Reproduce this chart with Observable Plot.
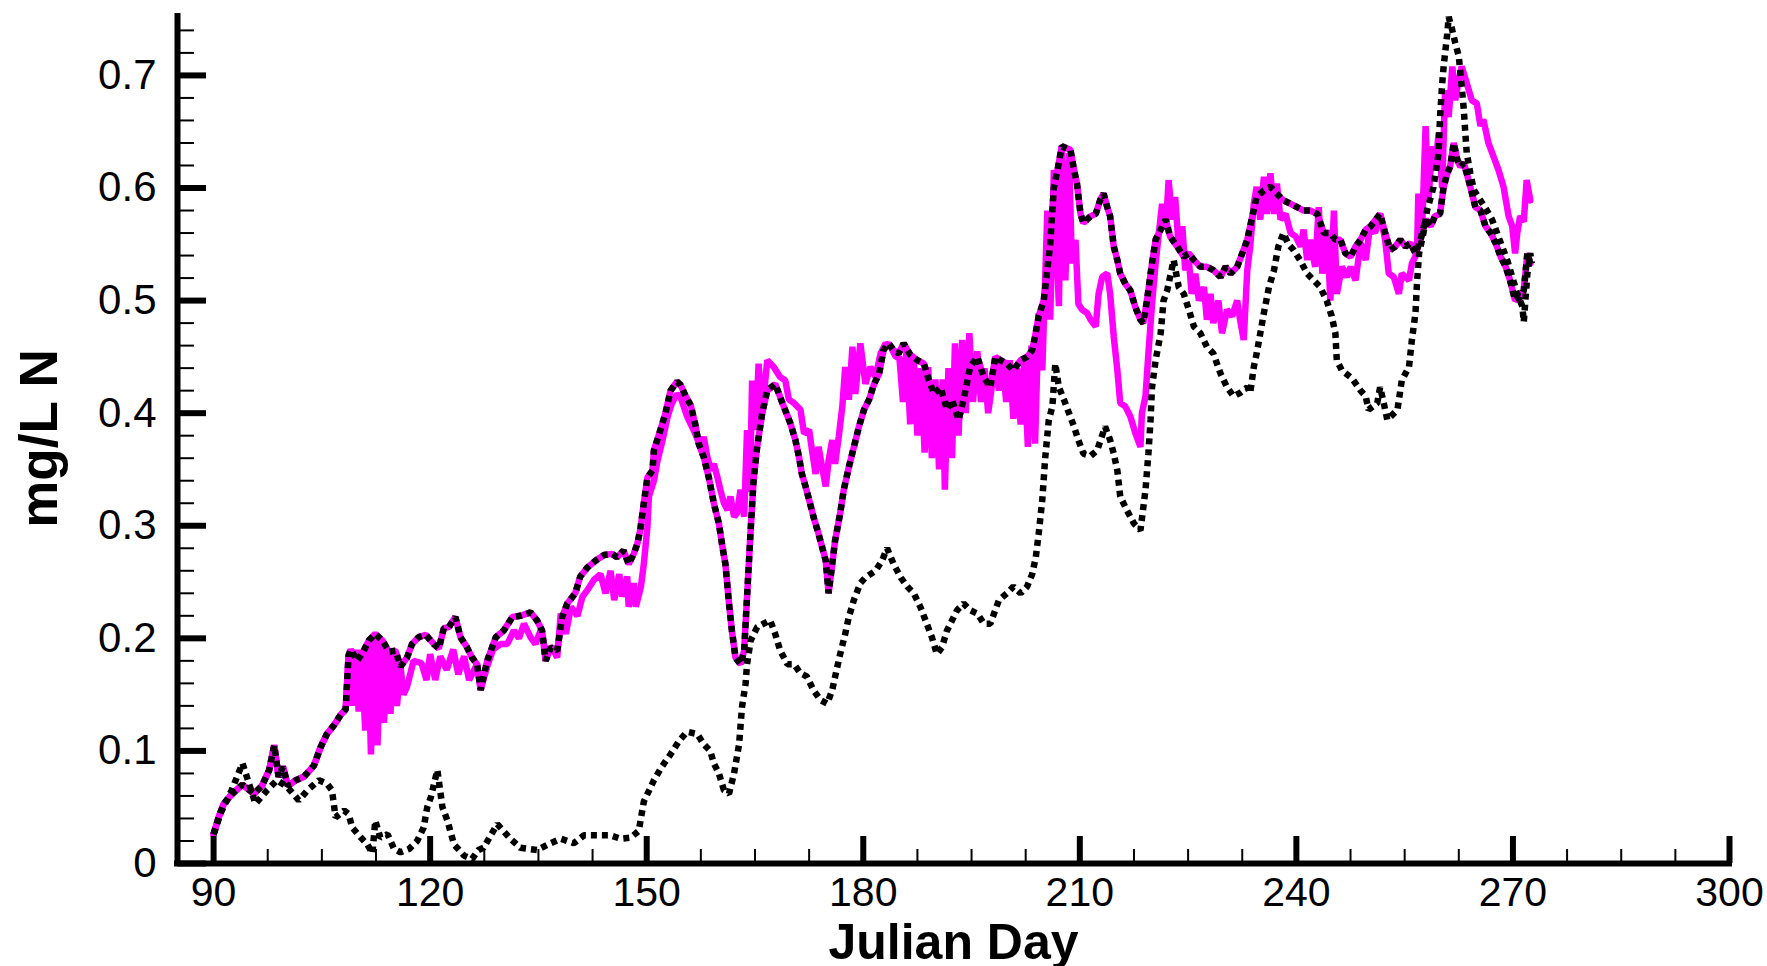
<!DOCTYPE html>
<html>
<head>
<meta charset="utf-8">
<script src="https://cdn.jsdelivr.net/npm/d3@7"></script>
<script src="https://cdn.jsdelivr.net/npm/@observablehq/plot@0.6"></script>
<style>
  html, body { margin: 0; padding: 0; background: #fff; }
  #chart svg { display: block; }
</style>
</head>
<body>
<div id="chart"></div>
<script>
// ---- tick values ----
const xMajorTicks = [90, 120, 150, 180, 210, 240, 270, 300];
const xMinorTicks = [97.5, 105, 112.5, 127.5, 135, 142.5, 157.5, 165, 172.5, 187.5, 195, 202.5,
  217.5, 225, 232.5, 247.5, 255, 262.5, 277.5, 285, 292.5];
const yMajorTicks = [0, 0.1, 0.2, 0.3, 0.4, 0.5, 0.6, 0.7];
const yMinorTicks = [0.02, 0.04, 0.06, 0.08, 0.12, 0.14, 0.16, 0.18, 0.22, 0.24, 0.26, 0.28,
  0.32, 0.34, 0.36, 0.38, 0.42, 0.44, 0.46, 0.48, 0.52, 0.54, 0.56, 0.58, 0.62, 0.64, 0.66, 0.68, 0.72, 0.74];
const xTitle = "Julian Day";
const yTitle = "mg/L N";

// ---- series: [Julian day, mg/L N] ----
// upper series (magenta solid overlaid by black dotted)
const upperSeries = [[90,0.026],[90.7,0.041],[91.4,0.053],[92.6,0.062],[94,0.07],[95.6,0.062],[96.7,0.069],[97.7,0.083],[98.4,0.105],[99,0.077],[99.6,0.086],[100.3,0.069],[101.4,0.074],[102.5,0.077],[103.9,0.087],[104.8,0.103],[105.7,0.115],[106.7,0.123],[107.6,0.132],[108.3,0.137],
[108.7,0.185],[109.0,0.19],[109.9,0.18],[110.8,0.189],[111.5,0.198],[112.4,0.204],[113.4,0.198],[114.3,0.188],[115.2,0.189],[115.9,0.175],[116.8,0.183],[117.5,0.195],[118.4,0.201],[119.4,0.203],[120.5,0.195],[121.2,0.191],[121.9,0.209],[122.6,0.21],[123.5,0.219],[124.2,0.201],[125.1,0.192],[125.8,0.183],[126.5,0.177],[127.0,0.154],[127.9,0.18],[129.1,0.201],[130.2,0.207],[131.4,0.219],[132.5,0.22],[133.9,0.223],[134.8,0.216],[135.5,0.207],[136.0,0.18],[136.7,0.192],[137.6,0.189],[138.3,0.219],[139.0,0.231],[140.1,0.24],[140.8,0.255],[141.8,0.263],[142.9,0.269],[144.1,0.274],[145.2,0.275],[145.9,0.272],[146.8,0.278],[147.5,0.266],[148.2,0.275],[148.7,0.284],[149.1,0.296],[149.6,0.32],[150.1,0.343],[150.8,0.349],[151.0,0.367],[151.9,0.385],[152.6,0.4],[153.3,0.42],[154.2,0.428],[154.7,0.425],[155.4,0.415],[156.1,0.407],[156.8,0.388],[157.2,0.373],[157.9,0.361],[158.6,0.343],[159.3,0.32],[160.0,0.302],[160.5,0.281],[160.9,0.266],[161.4,0.231],[161.8,0.207],[162.3,0.183],[163.0,0.177],[163.5,0.189],[163.9,0.237],[164.4,0.296],[164.8,0.34],[165.3,0.37],[166.0,0.4],[166.7,0.42],[167.8,0.426],[168.8,0.409],[169.9,0.391],[170.6,0.376],[171.1,0.361],[171.5,0.346],[172.0,0.335],[172.5,0.323],[173.1,0.308],[173.8,0.293],[174.3,0.281],[174.8,0.269],[175.2,0.24],[175.7,0.266],[176.1,0.287],[176.8,0.311],[177.3,0.332],[178.0,0.352],[178.7,0.37],[179.4,0.388],[180.1,0.403],[180.8,0.412],[181.5,0.426],[182.2,0.435],[182.8,0.456],[183.5,0.462],[184.2,0.456],[184.9,0.453],[185.6,0.462],[186.5,0.452],[187.5,0.447],[188.4,0.444],[189.1,0.429],[189.8,0.417],[190.7,0.423],[191.6,0.403],[192.3,0.412],[193.2,0.394],[193.9,0.412],[194.8,0.441],[195.8,0.45],[196.7,0.432],[197.6,0.423],[198.3,0.45],[199.0,0.447],[199.9,0.444],[200.8,0.438],[201.8,0.447],[202.7,0.45],[203.4,0.456],[203.8,0.468],[204.3,0.486],[205.0,0.5],[205.9,0.55],[206.4,0.6],[207.0,0.619],[207.5,0.637],[208.7,0.634],[209.2,0.616],[209.6,0.604],[210.1,0.577],[210.5,0.569],[211.5,0.575],[212.2,0.577],[212.8,0.589],[213.3,0.595],[213.8,0.583],[214.2,0.575],[214.7,0.548],[215.2,0.536],[215.6,0.524],[216.3,0.515],[217.0,0.509],[217.7,0.494],[218.4,0.483],[218.8,0.48],[219.3,0.5],[220.0,0.533],[220.5,0.554],[221.2,0.563],[221.9,0.572],[222.5,0.557],[223.5,0.548],[224.4,0.539],[225.1,0.542],[225.8,0.536],[226.7,0.53],[227.6,0.53],[228.5,0.527],[229.5,0.521],[230.2,0.53],[230.9,0.524],[231.8,0.53],[232.5,0.542],[233.2,0.554],[233.9,0.575],[234.5,0.592],[235.5,0.598],[236.4,0.601],[237.3,0.595],[238.2,0.589],[239.2,0.586],[240.1,0.583],[241.0,0.58],[241.9,0.58],[242.9,0.577],[243.8,0.56],[244.7,0.56],[245.4,0.554],[246.1,0.554],[246.8,0.542],[247.5,0.539],[248.2,0.548],[248.9,0.554],[249.6,0.563],[250.3,0.566],[251.0,0.572],[251.6,0.577],[252.3,0.56],[253.0,0.545],[253.7,0.548],[254.4,0.554],[255.1,0.548],[255.8,0.551],[256.5,0.542],[257.2,0.554],[257.9,0.572],[258.6,0.566],[259.2,0.575],[259.9,0.577],[260.4,0.601],[260.9,0.613],[261.3,0.619],[261.8,0.64],[262.3,0.625],[262.7,0.619],[263.2,0.622],[263.6,0.613],[264.1,0.601],[264.8,0.583],[265.5,0.58],[266.2,0.566],[266.9,0.56],[267.6,0.551],[268.3,0.539],[269.0,0.53],[269.6,0.518],[270.3,0.5],[271.0,0.503],[271.5,0.509],[272.0,0.542],[272.4,0.533]];

// second magenta series (noisy solid line)
const noisySeries = [[90,0.026],[90.7,0.041],[91.4,0.053],[92.6,0.062],[94,0.07],[95.6,0.062],[96.7,0.069],[97.7,0.083],[98.4,0.105],[99,0.077],[99.6,0.086],[100.3,0.069],[101.4,0.074],[102.5,0.077],[103.9,0.087],[104.8,0.103],[105.7,0.115],[106.7,0.123],[107.6,0.132],[108.3,0.137],
[108.7,0.185],[109.2,0.14],[109.6,0.19],[110.1,0.135],[110.5,0.19],[111.0,0.118],[111.4,0.195],[111.8,0.097],[112.3,0.2],[112.7,0.105],[113.2,0.198],[113.6,0.125],[114.1,0.19],[114.5,0.133],[114.9,0.185],[115.4,0.14],[115.9,0.175],[116.3,0.15],[116.8,0.157],[117.7,0.18],[118.8,0.178],[119.5,0.163],[120.0,0.186],[120.7,0.163],[121.4,0.184],[122.3,0.172],[123.2,0.19],[123.9,0.168],[124.7,0.184],[125.4,0.163],[126.5,0.177],[127.0,0.155],[127.9,0.175],[128.7,0.19],[129.8,0.195],[130.7,0.195],[131.6,0.207],[132.3,0.2],[133.0,0.213],[133.9,0.201],[134.6,0.195],[135.3,0.207],[136.0,0.189],[136.9,0.192],[137.6,0.183],[138.1,0.222],[138.8,0.204],[139.5,0.228],[140.4,0.22],[141.1,0.237],[141.8,0.243],[142.7,0.252],[143.6,0.257],[144.3,0.24],[145.0,0.26],[145.5,0.234],[146.2,0.257],[146.6,0.237],[147.3,0.255],[147.5,0.228],[148.2,0.249],[148.5,0.228],[149.2,0.246],[149.6,0.266],[150.1,0.299],[150.3,0.326],[151.0,0.34],[151.5,0.358],[152.2,0.376],[152.9,0.397],[153.5,0.409],[154.2,0.417],[154.7,0.414],[155.6,0.397],[156.5,0.385],[157.5,0.37],[157.9,0.379],[158.4,0.361],[158.9,0.349],[159.3,0.355],[159.8,0.343],[160.2,0.332],[160.7,0.32],[161.2,0.314],[161.6,0.326],[162.1,0.308],[162.5,0.311],[163.0,0.332],[163.5,0.308],[163.9,0.385],[164.3,0.33],[164.6,0.429],[165.1,0.385],[165.5,0.444],[166.0,0.4],[166.7,0.447],[167.6,0.441],[168.5,0.432],[169.2,0.429],[169.7,0.412],[170.4,0.409],[171.3,0.403],[171.8,0.382],[172.5,0.385],[172.9,0.367],[173.4,0.346],[173.8,0.37],[174.3,0.352],[174.8,0.335],[175.2,0.358],[175.7,0.376],[176.1,0.355],[176.6,0.379],[177.1,0.406],[177.5,0.441],[178.0,0.412],[178.5,0.459],[178.9,0.417],[179.6,0.462],[180.3,0.426],[181.0,0.441],[181.7,0.432],[182.4,0.453],[183.1,0.462],[183.8,0.459],[184.5,0.45],
[185.0,0.45],[185.5,0.41],[186.0,0.456],[186.5,0.39],[187.0,0.45],[187.5,0.38],[188.0,0.44],[188.5,0.365],[189.0,0.441],[189.5,0.36],[190.0,0.43],[190.5,0.35],[191.0,0.43],[191.3,0.332],[191.8,0.44],[192.3,0.36],[192.7,0.462],[193.2,0.38],[193.7,0.465],[194.2,0.4],[194.7,0.471],[195.2,0.41],[195.8,0.455],[196.3,0.41],[196.8,0.44],[197.3,0.4],[197.8,0.423],[198.3,0.45],[198.8,0.42],[199.3,0.447],[199.8,0.41],[200.3,0.447],[200.8,0.395],[201.3,0.44],[201.8,0.39],[202.3,0.447],[202.8,0.37],[203.3,0.46],[203.8,0.373],[204.3,0.489],[204.8,0.438],[205.5,0.58],[205.9,0.483],[206.4,0.616],[207.1,0.495],[207.5,0.637],[208.0,0.518],[208.5,0.631],[208.9,0.533],[209.4,0.554],[209.8,0.497],[210.3,0.492],[211.0,0.489],[211.5,0.483],[212.2,0.477],[212.6,0.506],[213.1,0.521],[213.8,0.524],[214.2,0.506],[214.7,0.468],[215.2,0.438],[215.6,0.409],[216.3,0.406],[217.0,0.397],[217.7,0.382],[218.4,0.37],[218.6,0.4],[219.1,0.415],[219.5,0.453],[220.0,0.497],[220.5,0.533],[220.9,0.557],[221.4,0.586],[221.9,0.563],[222.3,0.607],[222.8,0.572],[223.2,0.592],[223.7,0.548],[224.2,0.566],[224.6,0.527],[225.1,0.536],[225.5,0.506],[226.0,0.524],[226.5,0.5],[227.2,0.512],[227.6,0.483],[228.1,0.506],[228.5,0.48],[229.2,0.5],[229.7,0.471],[230.4,0.492],[231.1,0.486],[231.8,0.5],[232.2,0.483],[232.7,0.465],[233.2,0.527],[233.6,0.548],[234.1,0.586],[234.5,0.601],[235.0,0.572],[235.5,0.61],[235.9,0.577],[236.4,0.613],[236.9,0.577],[237.3,0.604],[237.8,0.572],[238.5,0.577],[239.2,0.56],[239.9,0.557],[240.6,0.548],[241.0,0.563],[241.5,0.536],[241.9,0.554],[242.6,0.53],[243.1,0.583],[243.6,0.524],[244.3,0.56],[244.7,0.5],[245.2,0.58],[245.6,0.506],[246.3,0.53],[247.0,0.521],[247.5,0.53],[248.2,0.518],[248.9,0.551],[249.6,0.536],[250.2,0.566],[250.9,0.56],[251.6,0.577],[252.3,0.554],[252.8,0.524],[253.5,0.521],[254.2,0.506],[254.6,0.524],[255.6,0.518],[256.0,0.533],[256.7,0.542],[256.9,0.595],[257.4,0.56],[257.9,0.655],[258.3,0.589],[258.8,0.637],[259.3,0.619],[259.7,0.649],[260.2,0.6],[260.6,0.687],[261.1,0.663],[261.6,0.708],[262.0,0.678],[262.5,0.696],[262.9,0.708],[263.6,0.693],[264.3,0.678],[265.0,0.675],[265.5,0.655],[265.9,0.661],[266.6,0.64],[267.3,0.628],[268.0,0.616],[268.7,0.601],[269.4,0.575],[269.9,0.566],[270.3,0.542],[270.6,0.56],[271.0,0.575],[271.5,0.57],[271.9,0.607],[272.4,0.589]];

// lower black dotted series
const lowerSeries = [[90,0.026],[91,0.045],[92.5,0.065],[94,0.089],[95.8,0.053],[97.4,0.065],[98.8,0.074],[100.2,0.068],[101.8,0.056],[103,0.065],[104.6,0.074],[105.7,0.071],[106.4,0.065],[106.9,0.041],[108.1,0.047],[108.7,0.044],[109.2,0.032],[110.4,0.023],[111.3,0.017],[112,0.009],[112.4,0.038],[113.1,0.023],[114.1,0.026],[115,0.013],[115.9,0.01],[117.1,0.013],[118.2,0.02],[119.1,0.032],[119.6,0.05],[120.1,0.059],[121,0.083],[121.7,0.05],[122.4,0.038],[123.3,0.017],[124.7,0.007],[125.8,0.004],[126.7,0.012],[127.4,0.014],[129.3,0.035],[131.1,0.022],[132.5,0.014],[134.8,0.012],[136.7,0.018],[138.1,0.022],[139.9,0.018],[141.3,0.025],[143.2,0.025],[145,0.025],[146.4,0.022],[147.8,0.023],[148.9,0.029],[149.6,0.055],[151,0.074],[152.1,0.086],[153.3,0.097],[154.5,0.109],[155.6,0.117],[157,0.115],[157.9,0.106],[158.8,0.1],[159.3,0.089],[160,0.08],[160.7,0.065],[161.4,0.062],[162.1,0.08],[162.8,0.106],[163.2,0.139],[163.7,0.16],[163.9,0.177],[164.4,0.198],[165.3,0.21],[166.2,0.213],[167.1,0.216],[167.8,0.204],[168.5,0.189],[169.5,0.177],[170.4,0.177],[171.3,0.169],[172.2,0.166],[173.1,0.154],[174.1,0.145],[175,0.142],[175.7,0.154],[176.1,0.166],[176.8,0.186],[177.5,0.204],[178,0.219],[178.7,0.234],[179.6,0.249],[180.3,0.254],[181,0.257],[181.7,0.26],[182.6,0.269],[183.3,0.28],[184.2,0.266],[185.2,0.254],[186.1,0.246],[187,0.24],[187.9,0.228],[188.8,0.213],[189.5,0.201],[190.2,0.186],[190.9,0.192],[191.6,0.207],[192.3,0.216],[193,0.225],[193.9,0.231],[194.8,0.225],[195.8,0.222],[196.7,0.213],[197.6,0.213],[198.8,0.234],[199.9,0.24],[200.8,0.246],[201.8,0.24],[202.7,0.246],[203.4,0.257],[203.9,0.272],[204.3,0.293],[204.8,0.323],[205.2,0.36],[205.7,0.394],[206.2,0.406],[206.6,0.444],[207.1,0.423],[207.8,0.412],[208.5,0.4],[209.2,0.388],[209.8,0.376],[210.5,0.364],[211.5,0.362],[212.4,0.367],[213.5,0.388],[214.2,0.376],[214.7,0.364],[215.2,0.349],[215.6,0.326],[216.5,0.314],[217.5,0.302],[218.4,0.296],[219.1,0.332],[219.5,0.364],[219.8,0.394],[220,0.423],[220.5,0.447],[221.2,0.471],[221.6,0.5],[222.1,0.509],[222.5,0.521],[223,0.536],[223.7,0.512],[224.4,0.506],[225.1,0.492],[225.8,0.477],[226.7,0.471],[227.6,0.459],[228.5,0.453],[229.5,0.435],[230.4,0.423],[231.3,0.415],[232.2,0.418],[233.2,0.423],[233.6,0.418],[234.1,0.441],[234.5,0.453],[235,0.471],[235.5,0.489],[236.2,0.512],[236.9,0.527],[237.5,0.548],[238.2,0.56],[238.9,0.55],[239.6,0.545],[240.5,0.536],[241.5,0.524],[242.4,0.518],[243.3,0.512],[244.2,0.5],[244.9,0.486],[245.4,0.471],[245.6,0.447],[246.3,0.438],[247.7,0.431],[248.9,0.42],[249.6,0.415],[250,0.403],[251.2,0.409],[251.6,0.423],[252.1,0.409],[252.6,0.394],[254,0.403],[254.6,0.429],[255.6,0.441],[256,0.465],[256.5,0.489],[256.7,0.515],[257,0.542],[257.6,0.56],[258.1,0.58],[259,0.601],[259.7,0.631],[259.9,0.663],[260.2,0.693],[260.4,0.708],[260.9,0.737],[261.1,0.752],[261.6,0.74],[262,0.729],[262.5,0.717],[262.9,0.69],[263.2,0.669],[263.4,0.649],[263.6,0.631],[264.1,0.613],[264.6,0.598],[265.5,0.589],[266.4,0.58],[267.1,0.572],[267.8,0.56],[268.5,0.548],[269.2,0.536],[269.9,0.521],[270.6,0.506],[271.3,0.495],[271.5,0.481],[272,0.524],[272.4,0.542],[272.6,0.533]];

const MAGENTA = "#ff00ff";
const FONT = "'Liberation Sans', Arial, Helvetica, sans-serif";
const X = d => d[0], Y = d => d[1];
const LW = 6.5;

const chart = Plot.plot({
  width: 1767,
  height: 966,
  marginLeft: 177,
  marginRight: 38,
  marginTop: 13,
  marginBottom: 103,
  style: {fontFamily: FONT, background: "#fff", color: "#000", overflow: "visible"},
  x: {domain: [85, 300]},
  y: {domain: [0, 0.755]},
  marks: [
    // data
    Plot.line(noisySeries, {x: X, y: Y, stroke: MAGENTA, strokeWidth: LW, strokeLinejoin: "bevel"}),
    Plot.line(upperSeries, {x: X, y: Y, stroke: MAGENTA, strokeWidth: LW, strokeLinejoin: "bevel"}),
    Plot.line(lowerSeries, {x: X, y: Y, stroke: "#000", strokeWidth: LW, strokeDasharray: "6,5", strokeLinecap: "butt", strokeLinejoin: "miter"}),
    Plot.line(upperSeries, {x: X, y: Y, stroke: "#000", strokeWidth: LW, strokeDasharray: "6,5", strokeLinecap: "butt", strokeLinejoin: "miter"}),
    // axis lines
    Plot.ruleX([85], {strokeWidth: 6}),
    Plot.ruleY([0], {strokeWidth: 6, strokeLinecap: "square"}),
    // ticks (inward)
    Plot.axisX(xMinorTicks, {anchor: "bottom", tickSize: -14, strokeWidth: 2, tickFormat: () => "", label: null}),
    Plot.axisX(xMajorTicks, {anchor: "bottom", tickSize: -27, strokeWidth: 6, tickFormat: () => "", label: null}),
    Plot.axisY(yMinorTicks, {anchor: "left", tickSize: -17, strokeWidth: 2, tickFormat: () => "", label: null}),
    Plot.axisY(yMajorTicks, {anchor: "left", tickSize: -29, strokeWidth: 6, tickFormat: () => "", label: null}),
    // tick labels
    Plot.axisX(xMajorTicks, {anchor: "bottom", tickSize: 0, tickPadding: 13, fontSize: 41, tickFormat: d => String(d), label: null}),
    Plot.axisY(yMajorTicks, {anchor: "left", tickSize: 0, tickPadding: 21, fontSize: 42, tickFormat: d => String(d), label: null}),
    // titles
    Plot.text([xTitle], {text: d => d, frameAnchor: "bottom", lineAnchor: "middle", textAnchor: "middle", dy: 79, fontSize: 50, fontWeight: "bold"}),
    Plot.text([yTitle], {text: d => d, frameAnchor: "left", lineAnchor: "middle", textAnchor: "middle", dx: -137, rotate: -90, fontSize: 53, fontWeight: "bold"})
  ]
});
document.getElementById("chart").appendChild(chart);
</script>
</body>
</html>
